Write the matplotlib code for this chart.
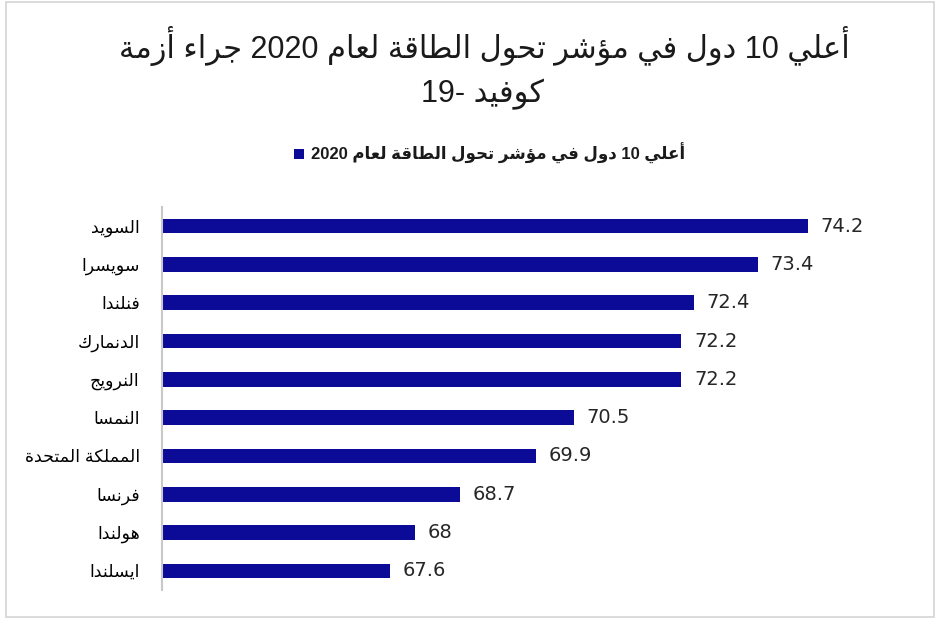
import matplotlib.pyplot as plt
from matplotlib.patches import Rectangle

# data
countries = ["السويد", "سويسرا", "فنلندا", "الدنمارك", "النرويج",
             "النمسا", "المملكة المتحدة", "فرنسا", "هولندا", "ايسلندا"]
scores = [74.2, 73.4, 72.4, 72.2, 72.2, 70.5, 69.9, 68.7, 68, 67.6]
value_labels = ["74.2", "73.4", "72.4", "72.2", "72.2", "70.5", "69.9", "68.7", "68", "67.6"]
title_line1 = "أعلي 10 دول في مؤشر تحول الطاقة لعام 2020 جراء أزمة"
title_line2 = "كوفيد -19"
series_name = "أعلي 10 دول في مؤشر تحول الطاقة لعام 2020"

# matplotlib has no arabic shaping, so do a small one by hand
# letter -> (first presentation form code, number of forms)
FORMS = {
    'ء': (0xFE80, 1), 'آ': (0xFE81, 2), 'أ': (0xFE83, 2), 'ؤ': (0xFE85, 2),
    'إ': (0xFE87, 2), 'ئ': (0xFE89, 4), 'ا': (0xFE8D, 2), 'ب': (0xFE8F, 4),
    'ة': (0xFE93, 2), 'ت': (0xFE95, 4), 'ث': (0xFE99, 4), 'ج': (0xFE9D, 4),
    'ح': (0xFEA1, 4), 'خ': (0xFEA5, 4), 'د': (0xFEA9, 2), 'ذ': (0xFEAB, 2),
    'ر': (0xFEAD, 2), 'ز': (0xFEAF, 2), 'س': (0xFEB1, 4), 'ش': (0xFEB5, 4),
    'ص': (0xFEB9, 4), 'ض': (0xFEBD, 4), 'ط': (0xFEC1, 4), 'ظ': (0xFEC5, 4),
    'ع': (0xFEC9, 4), 'غ': (0xFECD, 4), 'ف': (0xFED1, 4), 'ق': (0xFED5, 4),
    'ك': (0xFED9, 4), 'ل': (0xFEDD, 4), 'م': (0xFEE1, 4), 'ن': (0xFEE5, 4),
    'ه': (0xFEE9, 4), 'و': (0xFEED, 2), 'ى': (0xFEEF, 2), 'ي': (0xFEF1, 4),
}


def shape(text):
    out = []
    for i, ch in enumerate(text):
        if ch not in FORMS:
            out.append(ch)
            continue
        base, n = FORMS[ch]
        prev = text[i - 1] if i > 0 else ''
        nxt = text[i + 1] if i + 1 < len(text) else ''
        join_prev = n > 1 and prev in FORMS and FORMS[prev][1] == 4
        join_next = n == 4 and nxt in FORMS and FORMS[nxt][1] > 1
        if join_prev and join_next:
            k = 3
        elif join_prev:
            k = 1
        elif join_next:
            k = 2
        else:
            k = 0
        out.append(chr(base + k))
    return ''.join(out)


def rtl(text):
    s = shape(text)[::-1]
    # put digit runs back in left-to-right order
    res, run = [], ''
    for ch in s:
        if ch.isdigit() or (ch == '.' and run):
            run += ch
        else:
            res.append(run[::-1])
            run = ''
            res.append(ch)
    res.append(run[::-1])
    return ''.join(res)


fonts = ['Liberation Sans', 'DejaVu Sans']
bar_color = '#0b0b98'

fig = plt.figure(figsize=(9.4, 6.19), dpi=100)
ax = fig.add_axes([0.1723, 0.0468, 0.8088, 0.6188])

y = list(range(len(countries)))
bars = ax.barh(y, scores, height=0.38, color=bar_color, label=rtl(series_name))
ax.bar_label(bars, labels=value_labels, padding=9, fontsize=14, color='#262626',
             family='DejaVu Sans')

ax.set_xlim(64, 76)
ax.set_ylim(len(countries) - 0.5, -0.5)
ax.set_yticks(y)
ax.set_yticklabels([rtl(c) for c in countries], fontsize=12.5, family=fonts,
                   color='#000000')
ax.tick_params(axis='y', length=0, pad=16)
ax.set_xticks([])
for side in ['top', 'right', 'bottom']:
    ax.spines[side].set_visible(False)
ax.spines['left'].set_color('#c8c8c8')
ax.spines['left'].set_linewidth(1.5)

# title
fig.text(0.515, 0.925, rtl(title_line1), ha='center', va='center', fontsize=22,
         family=fonts, color='#1a1a1a')
fig.text(0.513, 0.848, rtl(title_line2), ha='center', va='center', fontsize=22,
         family=fonts, color='#1a1a1a')

# legend
leg = fig.legend(loc='center', bbox_to_anchor=(0.521, 0.752), frameon=False,
                 handlelength=0.6, handleheight=0.6, handletextpad=0.4,
                 prop={'family': fonts, 'size': 12, 'weight': 'bold'})
for t in leg.get_texts():
    t.set_color('#1a1a1a')

# chart frame
fig.patches.append(Rectangle((0.006, 0.004), 0.988, 0.993, transform=fig.transFigure,
                             fill=False, edgecolor='#d4d4d4', linewidth=1.2))

fig.savefig('out.png', dpi=100)
